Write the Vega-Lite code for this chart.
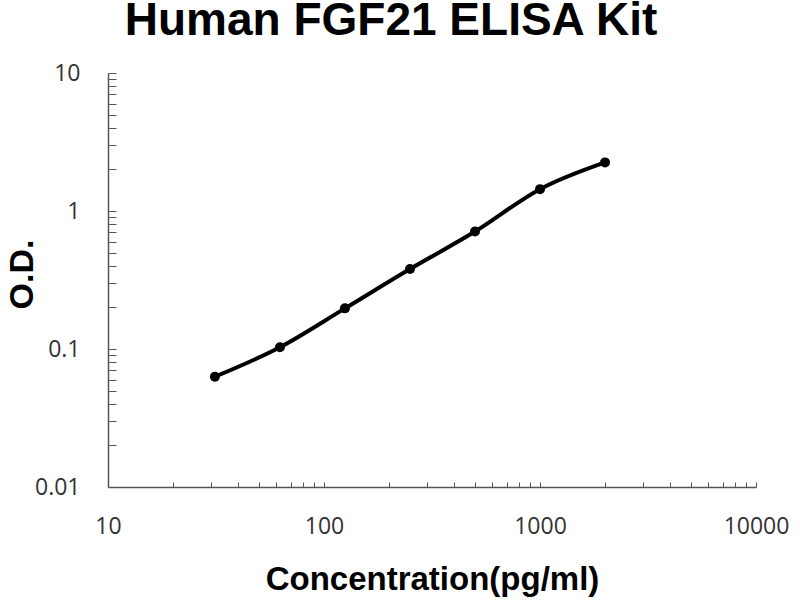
{
  "$schema": "https://vega.github.io/schema/vega-lite/v6.json",
  "width": 648,
  "height": 414,
  "autosize": "none",
  "padding": {"left": 108, "top": 73, "right": 44, "bottom": 113},
  "background": "white",
  "view": {"stroke": null},
  "title": {
    "text": "Human FGF21 ELISA Kit",
    "font": "Liberation Sans",
    "fontSize": 46,
    "fontWeight": "bold",
    "color": "black",
    "anchor": "middle",
    "dx": -41,
    "offset": 17
  },
  "data": {
    "values": [
      {"conc": 31.25, "od": 0.063},
      {"conc": 62.5, "od": 0.103},
      {"conc": 125, "od": 0.197},
      {"conc": 250, "od": 0.38},
      {"conc": 500, "od": 0.71},
      {"conc": 1000, "od": 1.44},
      {"conc": 2000, "od": 2.25}
    ]
  },
  "encoding": {
    "x": {
      "field": "conc",
      "type": "quantitative",
      "scale": {"type": "log", "domain": [10, 10000], "nice": false},
      "axis": {
        "title": "Concentration(pg/ml)",
        "titleFont": "Liberation Sans",
        "titleFontSize": 33,
        "titleFontWeight": "bold",
        "titleColor": "black",
        "titlePadding": 25,
        "grid": false,
        "values": [10, 20, 30, 40, 50, 60, 70, 80, 90, 100, 200, 300, 400, 500, 600, 700, 800, 900, 1000, 2000, 3000, 4000, 5000, 6000, 7000, 8000, 9000, 10000],
        "labelExpr": "indexof([10, 100, 1000, 10000], datum.value) >= 0 ? format(datum.value, 'd') : ''",
        "labelOverlap": false,
        "labelFlush": false,
        "labelFont": "Open Sans",
        "labelFontSize": 23,
        "labelColor": "#333",
        "labelPadding": 33,
        "tickSize": -5,
        "tickColor": "#555",
        "domainColor": "#555",
        "domainWidth": 1.5
      }
    },
    "y": {
      "field": "od",
      "type": "quantitative",
      "scale": {"type": "log", "domain": [0.01, 10], "nice": false},
      "axis": {
        "title": "O.D.",
        "titleFont": "Liberation Sans",
        "titleFontSize": 34,
        "titleFontWeight": "bold",
        "titleColor": "black",
        "titleX": -86,
        "titleY": 201,
        "titleBaseline": "middle",
        "grid": false,
        "values": [0.01, 0.02, 0.03, 0.04, 0.05, 0.06, 0.07, 0.08, 0.09, 0.1, 0.2, 0.3, 0.4, 0.5, 0.6, 0.7, 0.8, 0.9, 1, 2, 3, 4, 5, 6, 7, 8, 9, 10],
        "labelExpr": "indexof([0.01, 0.1, 1, 10], datum.value) >= 0 ? format(datum.value, '~g') : ''",
        "labelOverlap": false,
        "labelFlush": false,
        "labelFont": "Open Sans",
        "labelFontSize": 23,
        "labelColor": "#333",
        "labelPadding": 36,
        "tickSize": -8,
        "tickColor": "#555",
        "domainColor": "#555",
        "domainWidth": 1.5
      }
    }
  },
  "layer": [
    {"mark": {"type": "line", "interpolate": "monotone", "color": "black", "strokeWidth": 4}},
    {"mark": {"type": "point", "filled": true, "color": "black", "opacity": 1, "size": 100}}
  ]
}
